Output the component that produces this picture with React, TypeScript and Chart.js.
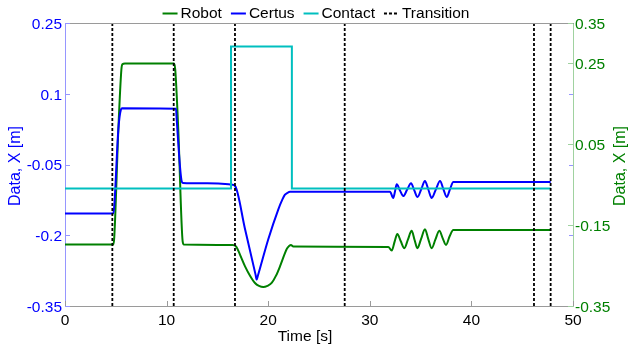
import React, { useEffect, useRef } from 'react';
import { Chart, registerables } from 'chart.js';

Chart.register(...registerables);

// ---------------- data ----------------
const robotTime = [0, 4.76, 4.85, 5.25, 5.55, 5.65, 5.9, 10.73, 10.85, 11.15, 11.58, 11.7, 16.5, 16.85, 17.22, 17.72, 18.21, 18.7, 19.09, 19.52, 19.93, 20.34, 20.77, 21.16, 21.65, 21.85, 22.08, 22.24, 22.47, 31.82, 32.16, 32.45, 32.71, 33.05, 33.4, 33.75, 34.12, 34.4, 34.68, 35.05, 35.43, 35.75, 36.09, 36.45, 36.84, 37.2, 37.5, 37.85, 38.22, 47.8];
const robotX = [-0.198, -0.198, -0.18, 0.086, 0.235, 0.248, 0.25, 0.25, 0.235, 0.086, -0.19, -0.198, -0.199, -0.203, -0.223, -0.252, -0.275, -0.293, -0.3, -0.303, -0.3, -0.293, -0.275, -0.252, -0.219, -0.208, -0.201, -0.199, -0.203, -0.204, -0.213, -0.19, -0.172, -0.19, -0.207, -0.186, -0.164, -0.186, -0.207, -0.184, -0.16, -0.184, -0.207, -0.186, -0.164, -0.184, -0.199, -0.178, -0.162, -0.162];

const certusTime = [0, 4.75, 4.85, 5.25, 5.5, 5.62, 10.93, 10.99, 11.49, 11.6, 14.0, 16.1, 16.45, 16.75, 17.7, 18.75, 18.87, 18.97, 20.0, 20.98, 21.4, 21.65, 21.9, 22.15, 31.99, 32.31, 32.48, 32.65, 32.97, 33.3, 33.68, 34.06, 34.38, 34.7, 35.07, 35.43, 35.76, 36.09, 36.5, 36.91, 37.24, 37.57, 37.9, 38.22, 47.8];
const certusX = [-0.154, -0.154, -0.138, 0.024, 0.066, 0.069, 0.068, 0.047, -0.086, -0.089, -0.09, -0.092, -0.093, -0.096, -0.185, -0.283, -0.294, -0.287, -0.209, -0.146, -0.124, -0.114, -0.11, -0.108, -0.108, -0.121, -0.107, -0.092, -0.105, -0.117, -0.103, -0.09, -0.105, -0.119, -0.102, -0.085, -0.103, -0.121, -0.103, -0.085, -0.102, -0.119, -0.102, -0.087, -0.087];

const contactTime = [0, 16.34, 16.34, 22.33, 22.33, 47.8];
const contactX = [-0.101, -0.101, 0.2, 0.2, -0.101, -0.101];

const transitionTimes = [4.66, 10.7, 16.73, 27.53, 46.16, 47.8];

const xTicks = [0, 10, 20, 30, 40, 50];
const leftTicks = [-0.35, -0.2, -0.05, 0.1, 0.25];
const rightTicks = [-0.35, -0.15, 0.05, 0.25, 0.35];

const seriesLabels = ['Robot', 'Certus', 'Contact', 'Transition'];
const xTitle = 'Time [s]';
const yTitle = 'Data, X [m]';

// ---------------- style ----------------
const FONT = '"Liberation Sans", Arial, Helvetica, sans-serif';
const GREEN = '#008000';
const BLUE = '#0000ff';
const CYAN = '#00bfbf';
const BLACK = '#000000';
const LEFT_AXIS = '#9696ff';
const RIGHT_AXIS = '#a0d2a0';
const GRAY_AXIS = '#9a9a9a';

const zip = (xs: number[], ys: number[]) => xs.map((x, i) => ({ x, y: ys[i] }));

const decor = {
  id: 'decor',
  afterDraw(chart: any) {
    const { ctx, chartArea: a, scales } = chart;
    ctx.save();
    ctx.lineWidth = 1;
    // top border
    ctx.strokeStyle = GRAY_AXIS;
    ctx.beginPath();
    ctx.moveTo(a.left, a.top + 0.5);
    ctx.lineTo(a.right + 1, a.top + 0.5);
    ctx.stroke();
    // x ticks (inward)
    scales.x.ticks.forEach((t: any) => {
      const px = Math.round(scales.x.getPixelForValue(t.value)) + 0.5;
      ctx.beginPath();
      ctx.moveTo(px, a.bottom);
      ctx.lineTo(px, a.bottom - 5);
      ctx.stroke();
    });
    // left ticks + mirrored on right
    ctx.strokeStyle = LEFT_AXIS;
    scales.y.ticks.forEach((t: any) => {
      const py = Math.round(scales.y.getPixelForValue(t.value)) + 0.5;
      ctx.beginPath();
      ctx.moveTo(a.left, py);
      ctx.lineTo(a.left + 5, py);
      ctx.moveTo(a.right - 4, py);
      ctx.lineTo(a.right, py);
      ctx.stroke();
    });
    // right ticks
    ctx.strokeStyle = RIGHT_AXIS;
    scales.y2.ticks.forEach((t: any) => {
      const py = Math.round(scales.y2.getPixelForValue(t.value)) + 0.5;
      ctx.beginPath();
      ctx.moveTo(a.right - 5, py);
      ctx.lineTo(a.right, py);
      ctx.stroke();
    });

    // axis titles
    const midY = (a.top + a.bottom) / 2 + 1.5;
    ctx.font = `16px ${FONT}`;
    ctx.textAlign = 'center';
    ctx.textBaseline = 'middle';
    ctx.fillStyle = BLUE;
    ctx.save();
    ctx.translate(16, midY);
    ctx.rotate(-Math.PI / 2);
    ctx.fillText(yTitle, 0, 0);
    ctx.restore();
    ctx.fillStyle = GREEN;
    ctx.save();
    ctx.translate(620.5, midY);
    ctx.rotate(-Math.PI / 2);
    ctx.fillText(yTitle, 0, 0);
    ctx.restore();
    ctx.fillStyle = BLACK;
    ctx.font = `15.5px ${FONT}`;
    ctx.fillText(xTitle, 305, 336.5);

    // legend
    const ds = chart.data.datasets;
    ctx.font = `15.5px ${FONT}`;
    const lineLen = 15;
    const gap = 3;
    const itemGap = 9;
    const widths = ds.map((d: any) => ctx.measureText(d.label).width);
    const total = widths.reduce((s: number, w: number) => s + lineLen + gap + w, 0) + itemGap * (ds.length - 1);
    let x = 316 - total / 2;
    const ly = 13.5;
    ds.forEach((d: any, i: number) => {
      ctx.strokeStyle = d.borderColor;
      ctx.lineWidth = 2;
      ctx.setLineDash(d.borderDash || []);
      ctx.beginPath();
      ctx.moveTo(x, ly);
      ctx.lineTo(x + lineLen, ly);
      ctx.stroke();
      ctx.setLineDash([]);
      ctx.fillStyle = BLACK;
      ctx.textAlign = 'left';
      ctx.textBaseline = 'middle';
      ctx.fillText(d.label, x + lineLen + gap, ly);
      x += lineLen + gap + widths[i] + itemGap;
    });
    ctx.restore();
  },
};

export default function App() {
  const ref = useRef<HTMLCanvasElement>(null);

  useEffect(() => {
    if (!ref.current) return;
    Chart.defaults.font.family = FONT;
    const transitionData: any[] = [];
    transitionTimes.forEach((t) => {
      transitionData.push({ x: t, y: leftTicks[0] }, { x: t, y: leftTicks[leftTicks.length - 1] }, { x: t, y: null });
    });

    const chart = new Chart(ref.current, {
      type: 'line',
      data: {
        datasets: [
          {
            label: seriesLabels[0],
            data: zip(robotTime, robotX),
            yAxisID: 'y2',
            borderColor: GREEN,
            borderWidth: 2,
            pointRadius: 0,
            cubicInterpolationMode: 'monotone',
            order: 4,
          },
          {
            label: seriesLabels[1],
            data: zip(certusTime, certusX),
            yAxisID: 'y',
            borderColor: BLUE,
            borderWidth: 2,
            pointRadius: 0,
            cubicInterpolationMode: 'monotone',
            order: 3,
          },
          {
            label: seriesLabels[2],
            data: zip(contactTime, contactX),
            yAxisID: 'y',
            borderColor: CYAN,
            borderWidth: 2,
            pointRadius: 0,
            tension: 0,
            order: 2,
          },
          {
            label: seriesLabels[3],
            data: transitionData,
            yAxisID: 'y',
            borderColor: BLACK,
            borderWidth: 1.8,
            borderDash: [3, 2],
            pointRadius: 0,
            tension: 0,
            spanGaps: false,
            order: 1,
          },
        ] as any,
      },
      options: {
        responsive: false,
        animation: false,
        devicePixelRatio: 1,
        layout: { padding: { top: 23, left: 0, right: 0, bottom: 0 } },
        plugins: { legend: { display: false }, tooltip: { enabled: false } },
        scales: {
          x: {
            type: 'linear',
            min: 0,
            max: 50,
            afterBuildTicks: (s: any) => { s.ticks = xTicks.map((v) => ({ value: v })); },
            afterFit: (s: any) => { s.height = 41; },
            grid: { display: false, drawTicks: false },
            border: { display: true, color: GRAY_AXIS, width: 1 },
            ticks: { color: BLACK, font: { size: 15.5 }, padding: 5.5, maxRotation: 0, autoSkip: false, callback: (v: any) => String(v) },
          },
          y: {
            type: 'linear',
            position: 'left',
            min: -0.35,
            max: 0.25,
            afterBuildTicks: (s: any) => { s.ticks = leftTicks.map((v) => ({ value: v })); },
            afterFit: (s: any) => { s.width = 65; },
            grid: { display: false, drawTicks: false },
            border: { display: true, color: LEFT_AXIS, width: 1 },
            ticks: { color: BLUE, font: { size: 15.5 }, padding: 3, labelOffset: 1.5, autoSkip: false, callback: (v: any) => String(v) },
          },
          y2: {
            type: 'linear',
            position: 'right',
            min: -0.35,
            max: 0.35,
            afterBuildTicks: (s: any) => { s.ticks = rightTicks.map((v) => ({ value: v })); },
            afterFit: (s: any) => { s.width = 56; },
            grid: { display: false, drawTicks: false },
            border: { display: true, color: RIGHT_AXIS, width: 1 },
            ticks: { color: GREEN, font: { size: 15.5 }, padding: 2, labelOffset: 1.5, autoSkip: false, callback: (v: any) => String(v) },
          },
        },
      },
      plugins: [decor],
    });
    return () => chart.destroy();
  }, []);

  return (
    <div style={{ position: 'fixed', left: 0, top: 0, width: 629, height: 347, background: '#fff' }}>
      <canvas ref={ref} width={629} height={347} style={{ display: 'block', width: 629, height: 347 }} />
    </div>
  );
}
